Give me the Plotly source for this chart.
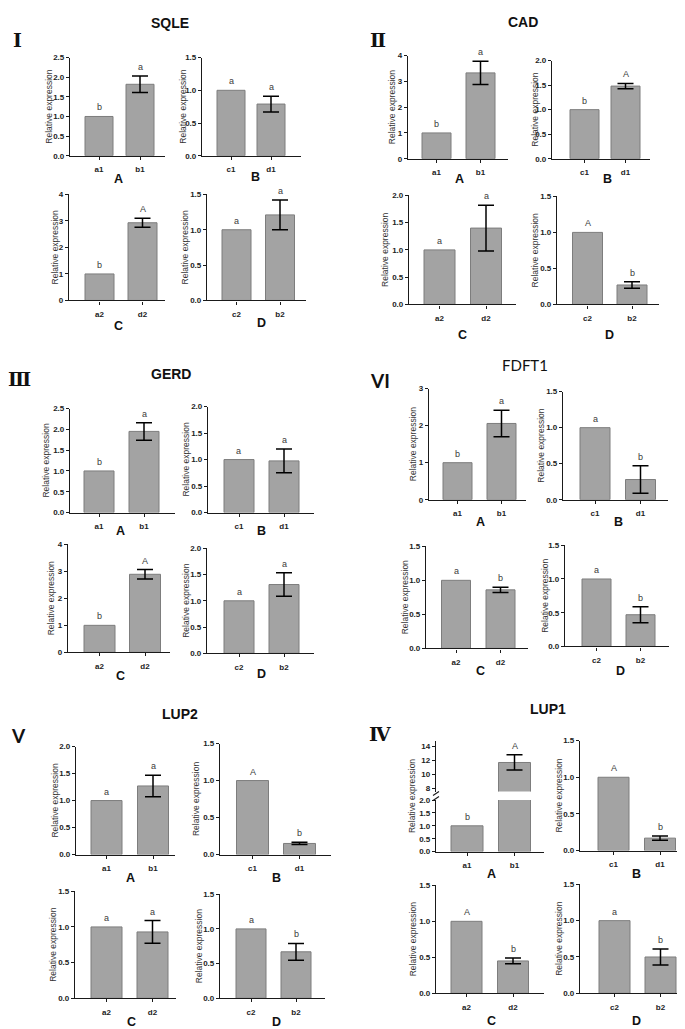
import plotly.graph_objects as go

W, H = 685, 1029

# ---------------- data ----------------
cats_A = ["a1", "b1"]
cats_B = ["c1", "d1"]
cats_C = ["a2", "d2"]
cats_D = ["c2", "b2"]
sub_labels = ["A", "B", "C", "D"]

genes = ["SQLE", "CAD", "GERD", "FDFT1", "LUP2", "LUP1"]
numerals = ["Ⅰ", "Ⅱ", "Ⅲ", "VI", "V", "Ⅳ"]

sqle_mean = [[1.0, 1.82], [1.0, 0.79], [1.0, 2.93], [1.0, 1.21]]
sqle_err = [0.21, 0.12, 0.17, 0.21]
sqle_sig = [["b", "a"], ["a", "a"], ["b", "A"], ["a", "a"]]
sqle_ymax = [2.5, 1.5, 4, 1.5]

cad_mean = [[1.0, 3.33], [1.0, 1.48], [1.0, 1.40], [1.0, 0.27]]
cad_err = [0.45, 0.055, 0.42, 0.045]
cad_sig = [["b", "a"], ["b", "A"], ["a", "a"], ["A", "b"]]
cad_ymax = [4, 2.0, 2.0, 1.5]

gerd_mean = [[1.0, 1.95], [1.0, 0.975], [1.0, 2.89], [1.0, 1.31]]
gerd_err = [0.21, 0.225, 0.175, 0.225]
gerd_sig = [["b", "a"], ["a", "a"], ["b", "A"], ["a", "a"]]
gerd_ymax = [2.5, 2.0, 4, 2.0]

fdft1_mean = [[1.0, 2.06], [1.0, 0.28], [1.0, 0.86], [1.0, 0.47]]
fdft1_err = [0.36, 0.19, 0.04, 0.12]
fdft1_sig = [["b", "a"], ["a", "b"], ["a", "b"], ["a", "b"]]
fdft1_ymax = [3, 1.5, 1.5, 1.5]

lup2_mean = [[1.0, 1.27], [1.0, 0.15], [1.0, 0.93], [1.0, 0.67]]
lup2_err = [0.20, 0.015, 0.16, 0.12]
lup2_sig = [["a", "a"], ["A", "b"], ["a", "a"], ["a", "b"]]
lup2_ymax = [2.0, 1.5, 1.5, 1.5]

lup1_mean = [[1.0, 11.7], [1.0, 0.17], [1.0, 0.45], [1.0, 0.50]]
lup1_err = [1.1, 0.03, 0.04, 0.11]
lup1_sig = [["b", "A"], ["A", "b"], ["A", "b"], ["a", "b"]]
lup1_ymax = [2.0, 1.5, 1.5, 1.5]
lup1_upper_range = [7.5, 14.86]
lup1_upper_ticks = [8, 10, 12, 14]

MEANS = [sqle_mean, cad_mean, gerd_mean, fdft1_mean, lup2_mean, lup1_mean]
ERRS = [sqle_err, cad_err, gerd_err, fdft1_err, lup2_err, lup1_err]
SIGS = [sqle_sig, cad_sig, gerd_sig, fdft1_sig, lup2_sig, lup1_sig]
YMAX = [sqle_ymax, cad_ymax, gerd_ymax, fdft1_ymax, lup2_ymax, lup1_ymax]
CATS = [cats_A, cats_B, cats_C, cats_D]

# ---------------- layout geometry (pixels) ----------------
# (axis left, axis right, axis top, zero line y, bar centre 1, bar centre 2, bar width, y-title x)
GEOM = [
    [(62, 157, 46, 145, 91, 132, 28, 41), (194, 293, 46, 145, 223, 263, 28, 175),
     (61, 157, 184, 291, 91.5, 134.5, 29, 47), (199, 298, 184, 291, 228.5, 272, 29, 177)],
    [(400, 500, 44, 148, 428.5, 472.5, 29, 384), (544, 642, 49, 148, 576.5, 617.5, 29, 527),
     (401, 508, 185, 295, 431.5, 478, 31, 377), (549, 651, 186, 295, 579.5, 624, 30, 527)],
    [(62, 167, 400, 505, 91, 136, 30, 38), (200, 306, 398, 505, 231, 276, 30, 178),
     (60, 162, 537, 646, 91.5, 137, 31, 43), (199, 306, 541, 647, 231, 276, 30, 178)],
    [(421, 518, 380, 492, 449.5, 493.5, 29, 405), (555, 660, 383, 492, 587, 632.5, 30, 533),
     (418, 520, 539, 642, 448, 492.5, 29, 397), (557, 661, 538, 640, 588.5, 632.5, 29, 537)],
    [(68, 167, 741, 850, 98.5, 145, 31, 47), (212, 323, 738, 850, 244.5, 291.5, 32, 188),
     (67, 168, 887, 995, 98.5, 144.5, 31, 45), (212, 317, 890, 995, 243, 288, 30, 191)],
    [(428, 536, 795, 847, 459, 506.5, 32, 404), (572, 683, 735, 846, 605.5, 652, 31, 551),
     (428, 536, 881, 990, 458.5, 505, 31, 405), (572, 682, 880, 990, 606.5, 652.5, 31, 551)],
]
LUP1_UPPER = (735, 786.5)  # top, bottom of upper broken segment

LETTER_POS = [
    [(110, 168), (247, 166), (110, 317), (253, 314)],
    [(452, 168), (599, 168), (454, 326), (601, 326)],
    [(113, 524), (253, 524), (113, 670), (253, 668)],
    [(472, 515), (610, 515), (473, 665), (612, 665)],
    [(122, 874), (268, 874), (123, 1019), (268, 1019)],
    [(483, 870), (628, 870), (483, 1018), (628, 1018)],
]
TITLE_POS = [(162, 11), (515, 10), (163, 365), (517, 356), (172, 708), (540, 703)]
NUM_POS = [(9, 28), (370, 28), (11, 370), (372, 372), (10, 730), (372, 728)]

AX = "#1a1a1a"
BAR_FILL = "#a3a3a3"
BAR_LINE = "#7d7d7d"
TICKFONT = dict(family="Liberation Sans, Arial", size=8, color="#222", weight="bold")
SIGFONT = dict(family="Liberation Sans, Arial", size=9, color="#3a3a3a")
YTFONT = dict(family="Liberation Sans, Arial", size=8.5, color="#333")


def fx(px):
    return px / W


def fy(py):
    return 1 - py / H


def ref(kind, n):
    return kind + ("" if n == 1 else str(n))


def axkey(kind, n):
    return kind + "axis" + ("" if n == 1 else str(n))


fig = go.Figure()
lay = dict(width=W, height=H, margin=dict(l=0, r=0, t=0, b=0),
           paper_bgcolor="white", plot_bgcolor="white",
           showlegend=False, barmode="overlay")
annotations = []
shapes = []
n_ax = 0


def ycfg(dom, rng, tickvals, fmt, anchor):
    return dict(domain=dom, range=rng, tickvals=tickvals, tickformat=fmt, anchor=anchor,
                showline=True, linecolor=AX, linewidth=1.3, ticks="outside", ticklen=3,
                tickwidth=1.2, tickcolor=AX, tickfont=TICKFONT, showgrid=False,
                zeroline=False, fixedrange=True)


def add_bars(cats, mean, err, xr, yr, bw_units):
    fig.add_trace(go.Bar(x=cats, y=mean, xaxis=xr, yaxis=yr, width=bw_units,
                         marker=dict(color=BAR_FILL, line=dict(color=BAR_LINE, width=1)),
                         hoverinfo="x+y"))
    fig.add_trace(go.Scatter(x=[cats[1]], y=[mean[1]], xaxis=xr, yaxis=yr, mode="markers",
                             marker=dict(size=1, color="rgba(0,0,0,0)"),
                             error_y=dict(type="data", array=[err], color="black",
                                          thickness=1.5, width=8),
                             hoverinfo="skip"))


for g, gene in enumerate(genes):
    for s in range(4):
        left, right, top, bottom, c0, c1, bw, tx = GEOM[g][s]
        cats = CATS[s]
        mean = MEANS[g][s]
        err = ERRS[g][s]
        sig = SIGS[g][s]
        ymax = YMAX[g][s]
        n_ax += 1
        n = n_ax
        xr, yr = ref("x", n), ref("y", n)
        unit = c1 - c0
        lo = -(c0 - left) / unit
        hi = 1 + (right - c1) / unit
        lay[axkey("x", n)] = dict(domain=[fx(left), fx(right)], type="category",
                                  range=[lo, hi], anchor=yr, showline=True, linecolor=AX,
                                  linewidth=1.3, ticks="outside", ticklen=3, tickwidth=1.2,
                                  tickcolor=AX, tickfont=TICKFONT, ticklabelstandoff=3,
                                  showgrid=False, zeroline=False, fixedrange=True)
        step = 1 if ymax in (3, 4) else 0.5
        fmt = "d" if step == 1 else ".1f"
        tv = [i * step for i in range(int(round(ymax / step)) + 1)]
        lay[axkey("y", n)] = ycfg([fy(bottom), fy(top)], [0, ymax], tv, fmt, xr)
        add_bars(cats, mean, err, xr, yr, bw / unit)

        if gene == "LUP1" and s == 0:
            # upper segment of the broken axis
            n_ax += 1
            yu = ref("y", n_ax)
            utop, ubot = LUP1_UPPER
            lay[axkey("y", n_ax)] = ycfg([fy(ubot), fy(utop)], lup1_upper_range,
                                         lup1_upper_ticks, "d", xr)
            add_bars(cats, mean, err, xr, yu, bw / unit)
            annotations.append(dict(x=cats[0], y=mean[0], xref=xr, yref=yr, text=sig[0],
                                    showarrow=False, yanchor="bottom", yshift=2, font=SIGFONT))
            annotations.append(dict(x=cats[1], y=mean[1] + err, xref=xr, yref=yu, text=sig[1],
                                    showarrow=False, yanchor="bottom", yshift=2, font=SIGFONT))
            for yb in (788.5, 793.5):
                shapes.append(dict(type="line", xref="paper", yref="paper",
                                   x0=fx(left - 3), y0=fy(yb + 2), x1=fx(left + 3), y1=fy(yb - 2),
                                   line=dict(color=AX, width=1.2)))
            ymid = (utop + bottom) / 2
        else:
            for i, c in enumerate(cats):
                yv = mean[i] + (err if i == 1 else 0)
                annotations.append(dict(x=c, y=yv, xref=xr, yref=yr, text=sig[i],
                                        showarrow=False, yanchor="bottom", yshift=2,
                                        font=SIGFONT))
            ymid = (top + bottom) / 2

        annotations.append(dict(x=fx(tx), y=fy(ymid), xref="paper", yref="paper",
                                text="Relative expression", textangle=-90, showarrow=False,
                                xanchor="center", yanchor="middle", font=YTFONT))
        lx, ly = LETTER_POS[g][s]
        annotations.append(dict(x=fx(lx), y=fy(ly), xref="paper", yref="paper",
                                text=sub_labels[s], showarrow=False, xanchor="center",
                                yanchor="middle",
                                font=dict(family="Liberation Sans, Arial", size=12.5,
                                          color="#111", weight="bold")))

    # gene title
    tx_, ty_ = TITLE_POS[g]
    if gene == "FDFT1":
        tfont = dict(family="Lato, Open Sans", size=15, color="#111")
    else:
        tfont = dict(family="Liberation Sans, Arial", size=14, color="#111", weight="bold")
    annotations.append(dict(x=fx(tx_), y=fy(ty_), xref="paper", yref="paper", text=gene,
                            showarrow=False, xanchor="center", yanchor="middle", font=tfont))
    # panel numeral
    nx_, ny_ = NUM_POS[g]
    if numerals[g] in ("VI", "V"):
        nfont = dict(family="Lato, Liberation Sans", size=19, color="#111", weight="bold")
    else:
        nfont = dict(family="DejaVu Serif, Liberation Serif", size=19, color="#111",
                     weight="bold")
    annotations.append(dict(x=fx(nx_), y=fy(ny_), xref="paper", yref="paper", text=numerals[g],
                            showarrow=False, xanchor="center", yanchor="middle", font=nfont))

lay["annotations"] = annotations
lay["shapes"] = shapes
fig.update_layout(**lay)
fig.write_html("out.html")
